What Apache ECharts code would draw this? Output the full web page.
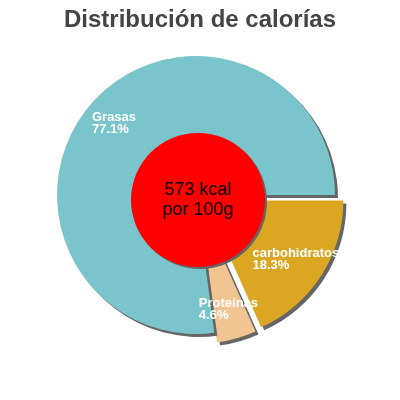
<!DOCTYPE html>
<html>
<head>
<meta charset="utf-8">
<script src="https://cdn.jsdelivr.net/npm/echarts@6/dist/echarts.min.js"></script>
<style>
  html, body { margin: 0; padding: 0; background: #fff; }
  #chart { width: 400px; height: 400px; }
</style>
</head>
<body>
<div id="chart"></div>
<script>
// datos (orden horario desde las 3 en punto)
var categories = ['carbohidratos', 'Proteínas', 'Grasas']
var percents = [18.3, 4.6, 77.1]
var exploded = [true, true, false]
var colors = ['#dba622', '#f0c591', '#7ac4cc']
var kcal = 573
var per = 'por 100g'

var font = 'Liberation Sans, Arial, sans-serif'
var shadow = {
  shadowColor: '#666',
  shadowBlur: 0,
  shadowOffsetX: 3,
  shadowOffsetY: 3
}

var pieData = categories.map(function (name, i) {
  return {
    name: name,
    value: percents[i],
    selected: exploded[i],
    itemStyle: Object.assign({ color: colors[i] }, shadow)
  }
})

var labelData = categories.map(function (name, i) {
  return { name: name, value: percents[i], selected: exploded[i] }
})

var chart = echarts.init(document.getElementById('chart'), null, { renderer: 'canvas' })
chart.setOption({
  animation: false,
  title: {
    text: 'Distribución de calorías',
    left: 'center',
    top: 3,
    textStyle: {
      fontFamily: font,
      fontSize: 24,
      fontWeight: 'bold',
      color: '#444'
    }
  },
  series: [{
    type: 'pie',
    center: [196, 195],
    radius: [0, 139],
    startAngle: 0,
    clockwise: true,
    selectedMode: 'multiple',
    selectedOffset: 10,
    silent: true,
    label: { show: false },
    labelLine: { show: false },
    emphasis: { disabled: true },
    data: pieData
  }, {
    type: 'pie',
    center: [198, 200],
    radius: [0, 67],
    silent: true,
    itemStyle: Object.assign({ color: '#ff0000' }, shadow, { shadowOffsetX: 2, shadowOffsetY: 2 }),
    label: {
      show: true,
      position: 'center',
      formatter: kcal + ' kcal\n' + per,
      fontFamily: font,
      fontSize: 18,
      lineHeight: 20,
      color: '#000'
    },
    labelLine: { show: false },
    emphasis: { disabled: true },
    data: [{ name: 'kcal', value: kcal }]
  }, {
    type: 'pie',
    center: [196, 195],
    radius: [73, 139],
    startAngle: 0,
    clockwise: true,
    selectedMode: 'multiple',
    selectedOffset: 10,
    silent: true,
    itemStyle: { color: 'rgba(0,0,0,0)' },
    label: {
      show: true,
      position: 'inside',
      formatter: '{t|{b}}\n{t|{c}%}',
      rich: {
        t: {
          fontFamily: font,
          fontSize: 13,
          fontWeight: 'bold',
          lineHeight: 12,
          align: 'left',
          color: '#fff'
        }
      }
    },
    labelLine: { show: false },
    emphasis: { disabled: true },
    data: labelData
  }]
})
</script>
</body>
</html>
